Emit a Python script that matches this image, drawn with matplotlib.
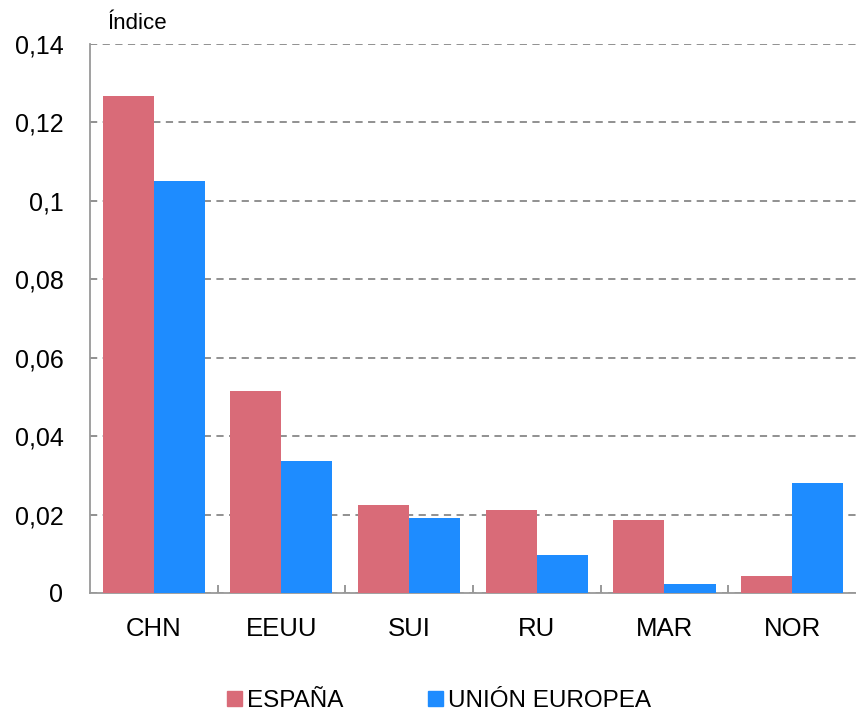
import matplotlib
matplotlib.use("Agg")
import matplotlib.pyplot as plt
import numpy as np
from matplotlib.patches import Patch

plt.rcParams['font.family'] = ['Liberation Sans', 'DejaVu Sans']

categories = ["CHN", "EEUU", "SUI", "RU", "MAR", "NOR"]
espana = [0.1267, 0.0515, 0.0225, 0.0212, 0.0187, 0.0043]
ue = [0.1051, 0.0337, 0.0191, 0.0097, 0.0023, 0.0281]
yticks = [0, 0.02, 0.04, 0.06, 0.08, 0.1, 0.12, 0.14]
ytick_labels = ["0", "0,02", "0,04", "0,06", "0,08", "0,1", "0,12", "0,14"]

c_es = "#D96B78"
c_ue = "#1E8CFF"

fig = plt.figure(figsize=(8.56, 7.14), dpi=100)
ax = fig.add_axes([0.105, 0.1695, 0.895, 0.769])

x = np.arange(len(categories))
w = 0.4
ax.bar(x - w/2, espana, w, color=c_es, zorder=3)
ax.bar(x + w/2, ue, w, color=c_ue, zorder=3)

ax.set_xlim(-0.5, len(categories) - 0.5)
ax.set_ylim(0, 0.14)
ax.set_yticks(yticks)
ax.set_yticklabels(ytick_labels, fontsize=18)
ax.yaxis.grid(True, linestyle=(0, (4, 3)), color="#888888", linewidth=1.3, zorder=1)
ax.tick_params(axis='y', length=0, pad=19)
ax.set_xticks(x)
ax.set_xticklabels(categories, fontsize=18.5)
ax.tick_params(axis='x', length=0, pad=17)
ax.set_xticks(np.arange(0.5, len(categories) - 0.5, 1), minor=True)
ax.tick_params(axis='x', which='minor', direction='in', length=6, color="#888888", width=1.2)

for s in ['top', 'right']:
    ax.spines[s].set_visible(False)
for s in ['left', 'bottom']:
    ax.spines[s].set_color("#999999")
    ax.spines[s].set_linewidth(1.3)

ax.text(0.0235, 1.027, "Índice", transform=ax.transAxes, fontsize=16, ha='left', va='baseline')

handles = [Patch(color=c_es, label="ESPAÑA"), Patch(color=c_ue, label="UNIÓN EUROPEA")]
fig.legend(handles=handles, loc='center', bbox_to_anchor=(0.513, 0.018), ncol=2, frameon=False,
           fontsize=17.5, handlelength=0.62, handleheight=0.62, handletextpad=0.2, columnspacing=3.5,
           borderpad=0, borderaxespad=0)

fig.savefig("out.png", dpi=100)
